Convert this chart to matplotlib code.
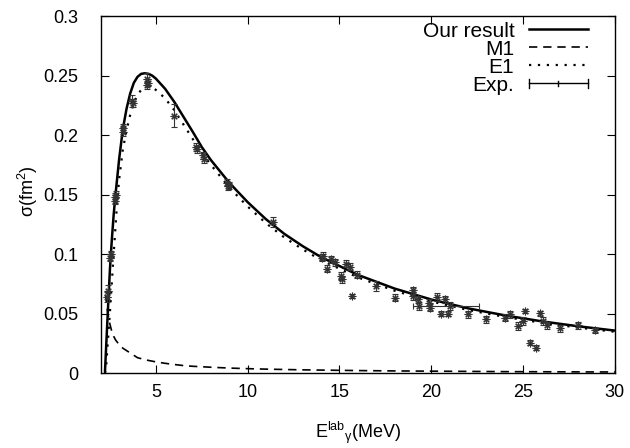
import matplotlib
matplotlib.use('Agg')
import matplotlib.pyplot as plt
from matplotlib.legend_handler import HandlerBase
from matplotlib.lines import Line2D
from matplotlib.ticker import FormatStrFormatter, MultipleLocator

plt.rcParams['font.family'] = ['Liberation Sans', 'DejaVu Sans']
plt.rcParams['mathtext.fontset'] = 'custom'
plt.rcParams['mathtext.rm'] = 'Liberation Sans'
plt.rcParams['mathtext.it'] = 'Liberation Sans:italic'

# theory curves
E_th = [2.23, 2.30, 2.40, 2.50, 2.60, 2.70, 2.80, 2.90, 3.0, 3.2, 3.4, 3.6, 3.8,
        4.0, 4.2, 4.4, 4.6, 4.8, 5.0, 5.5, 6.0, 6.5, 7.0, 7.5, 8, 9, 10, 11,
        12, 13, 14, 16, 18, 20, 22, 24, 26, 28, 30]
total = [0.002, 0.025, 0.057, 0.088, 0.112, 0.133, 0.150, 0.165, 0.180, 0.205,
         0.222, 0.235, 0.244, 0.249, 0.2515, 0.252, 0.2515, 0.250, 0.2475, 0.239,
         0.228, 0.2155, 0.203, 0.190, 0.179, 0.160, 0.1437, 0.1293, 0.117, 0.1067,
         0.0975, 0.0826, 0.0711, 0.0619, 0.0545, 0.0486, 0.0436, 0.0394, 0.0358]
e1 = [0.0, 0.008, 0.030, 0.052, 0.076, 0.100, 0.123, 0.146, 0.163, 0.188,
      0.204, 0.217, 0.227, 0.234, 0.238, 0.240, 0.2405, 0.240, 0.238, 0.231,
      0.221, 0.209, 0.197, 0.185, 0.175, 0.156, 0.140, 0.126, 0.114, 0.104,
      0.095, 0.0805, 0.0693, 0.0603, 0.0531, 0.0473, 0.0424, 0.0383, 0.0348]

E_m1 = [2.25, 2.27, 2.30, 2.34, 2.40, 2.50, 2.60, 2.70, 2.80, 2.90, 3.0, 3.2, 3.4,
        3.6, 3.8, 4.0, 4.2, 4.4, 4.6, 4.8, 5.0, 5.5, 6.0, 6.5, 7.0, 7.5, 8, 9,
        10, 11, 12, 13, 14, 16, 18, 20, 22, 24, 26, 28, 30]
m1 = [0.066, 0.064, 0.060, 0.055, 0.049, 0.041, 0.035, 0.031, 0.028, 0.026,
      0.024, 0.021, 0.019, 0.017, 0.015, 0.013, 0.0122, 0.0114, 0.0107, 0.0101,
      0.0095, 0.0083, 0.0073, 0.0064, 0.0058, 0.0054, 0.0050, 0.0043, 0.0038,
      0.0034, 0.0031, 0.0028, 0.0026, 0.0022, 0.0019, 0.0017, 0.0015, 0.0013,
      0.0012, 0.0011, 0.0010]

# experimental points
exp_E = [2.35, 2.38, 2.50, 2.53, 2.78, 2.80, 2.82, 3.20, 3.23, 3.72, 3.76, 4.50,
         4.52, 4.55, 5.97, 7.20, 7.25, 7.55, 7.60, 8.85, 8.95, 9.00, 11.40, 14.05,
         14.10, 14.30, 14.55, 14.75, 15.10, 15.12, 15.35, 15.55, 15.70, 15.95,
         17.00, 18.00, 19.00, 19.02, 19.28, 19.35, 19.90, 19.92, 20.30, 20.55,
         20.75, 20.90, 21.00, 22.00, 23.00, 24.00, 24.28, 24.70, 25.00, 25.10,
         25.40, 25.70, 25.90, 26.10, 26.30, 27.00, 28.00, 28.90]
exp_sig = [0.064, 0.069, 0.097, 0.100, 0.145, 0.148, 0.150, 0.203, 0.206, 0.229,
           0.227, 0.247, 0.242, 0.244, 0.2165, 0.190, 0.188, 0.183, 0.180, 0.160,
           0.157, 0.158, 0.127, 0.097, 0.0986, 0.0879, 0.0957, 0.093, 0.0817,
           0.079, 0.092, 0.0893, 0.0649, 0.0826, 0.0733, 0.0634, 0.0697, 0.0649,
           0.062, 0.0565, 0.0592, 0.055, 0.064, 0.050, 0.062, 0.050, 0.0564,
           0.0494, 0.0452, 0.0466, 0.0494, 0.0396, 0.0438, 0.0522, 0.0256, 0.0213,
           0.0502, 0.0438, 0.0404, 0.0376, 0.0404, 0.036]
exp_err = [0.004, 0.005, 0.003, 0.003, 0.003, 0.003, 0.003, 0.004, 0.003, 0.005,
           0.003, 0.005, 0.003, 0.003, 0.010, 0.003, 0.003, 0.003, 0.003, 0.003,
           0.003, 0.003, 0.004, 0.003, 0.003, 0.003, 0.003, 0.003, 0.003, 0.003,
           0.003, 0.003, 0.002, 0.003, 0.004, 0.003, 0.003, 0.003, 0.003, 0.003,
           0.003, 0.003, 0.003, 0.002, 0.003, 0.002, 0.003, 0.003, 0.003, 0.003,
           0.003, 0.003, 0.003, 0.002, 0.002, 0.002, 0.002, 0.003, 0.003, 0.003,
           0.003, 0.002]
# one point with an energy-bin error bar
wide_E = [20.8]
wide_sig = [0.0564]
wide_dE = [1.82]


class GnuplotErrHandler(HandlerBase):
    # key sample like gnuplot: horizontal bar with end ticks and centre tick
    def create_artists(self, legend, orig_handle, xdescent, ydescent,
                       width, height, fontsize, trans):
        y = height / 2 - ydescent
        x0 = -xdescent
        x1 = x0 + width
        h = 3.0
        arts = [Line2D([x0, x1], [y, y], color='k', lw=1.0, transform=trans)]
        for x, hh in ((x0, h), ((x0 + x1) / 2, h * 0.6), (x1, h)):
            arts.append(Line2D([x, x], [y - hh, y + hh], color='k', lw=1.0,
                               transform=trans))
        return arts


fig = plt.figure(figsize=(6.3, 4.48), dpi=100)
ax = fig.add_axes([0.160, 0.167, 0.816, 0.797])

ax.plot(E_th, total, color='k', lw=1.8, label='Our result')
ax.plot(E_m1, m1, color='k', lw=1.2, ls=(0, (5, 3.5)), label='M1')
ax.plot(E_th, e1, color='k', lw=1.6, ls=(0, (1, 3)), label='E1')

ax.errorbar(exp_E, exp_sig, yerr=exp_err, fmt='none', ecolor='#333333',
            elinewidth=0.8, capsize=2.2, capthick=0.8)
ax.errorbar(wide_E, wide_sig, xerr=wide_dE, fmt='none', ecolor='#333333',
            elinewidth=0.8, capsize=2.5, capthick=0.8)
ax.plot(exp_E, exp_sig, ls='none', marker=(8, 2, 0), ms=5.5, mew=0.8,
        color='#333333')
exp_proxy = Line2D([], [], color='k')

ax.set_xlim(2, 30)
ax.set_ylim(0, 0.3)
ax.xaxis.set_major_locator(MultipleLocator(5))
ax.yaxis.set_major_locator(MultipleLocator(0.05))
ax.yaxis.set_major_formatter(FormatStrFormatter('%g'))
ax.tick_params(direction='in', length=6, width=0.8, top=True, right=True,
               labelsize=13)
ax.tick_params(axis='x', pad=8)
ax.tick_params(axis='y', pad=16)
for s in ax.spines.values():
    s.set_linewidth(1.0)

ax.set_xlabel(r'E$^{\mathrm{lab}}$$_{\mathrm{γ}}$(MeV)', fontsize=13)
ax.set_ylabel(r'σ(fm$^{2}$)', fontsize=13)
ax.xaxis.set_label_coords(0.5, -0.13)
ax.yaxis.set_label_coords(-0.118, 0.51)

handles, labels = ax.get_legend_handles_labels()
handles.append(exp_proxy)
labels.append('Exp.')
ax.legend(handles, labels, loc='upper right', bbox_to_anchor=(0.951, 0.99),
          frameon=False, markerfirst=False, fontsize=15, handlelength=2.8,
          handletextpad=0.72, labelspacing=-0.05, borderpad=0.1,
          borderaxespad=0.0, handler_map={exp_proxy: GnuplotErrHandler()})

fig.savefig('out.png', dpi=100)
